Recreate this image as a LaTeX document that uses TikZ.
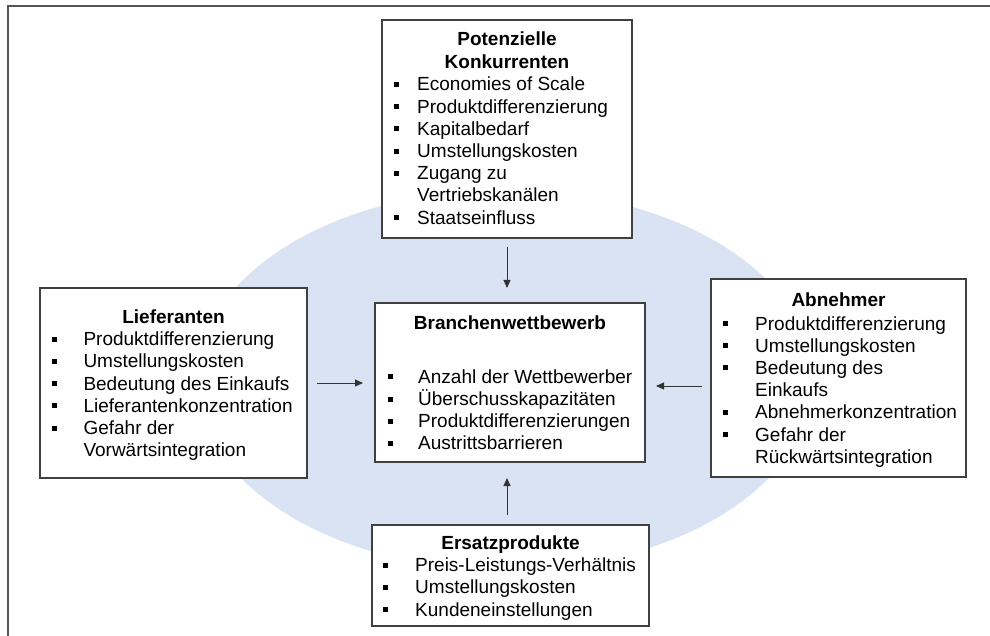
\documentclass[tikz,border=0pt]{standalone}
\usepackage{fontspec}
\setmainfont{Liberation Sans}
\usetikzlibrary{arrows.meta}
\definecolor{ellcol}{HTML}{DAE3F3}
\definecolor{boxline}{HTML}{404040}
\definecolor{arrcol}{HTML}{333333}
\definecolor{framecol}{HTML}{555555}
\newcommand\mybline[5]{%
  \node[bul] (#1b) at (#2,#4-6.5) {};
  \node[itm] (#1) at (#3,#4) {#5};}
\newcommand\mycont[4]{%
  \node[itm] (#1) at (#2,#3) {#4};}
\begin{document}
\begin{tikzpicture}[x=1pt,y=-1pt,
  box/.style={draw=boxline,line width=1.2pt,fill=white,inner sep=0pt,outer sep=0pt},
  ttl/.style={anchor=base,font=\fontsize{19}{22}\selectfont\bfseries,inner sep=0pt},
  itm/.style={anchor=base west,font=\fontsize{19}{22}\selectfont,inner sep=0pt},
  bul/.style={fill=black,minimum size=5pt,inner sep=0pt,outer sep=0pt},
  arr/.style={draw=arrcol,line width=1pt,-{Triangle[length=8pt,width=7pt]}}]
\useasboundingbox (0,0) rectangle (990,636);
\fill[white] (0,0) rectangle (990,636);
\draw[framecol,line width=1.5pt] (8,636) -- (8,6) -- (990,6);
\fill[ellcol] (505,380) ellipse [x radius=308pt, y radius=190pt];

% boxes
\node[box,minimum width=250pt,minimum height=218pt] (top) at (507,129) {};
\node[box,minimum width=270pt,minimum height=159pt] (mid) at (510,382.5) {};
\node[box,minimum width=267pt,minimum height=190pt] (left) at (173.5,383) {};
\node[box,minimum width=255pt,minimum height=198pt] (right) at (838.5,378) {};
\node[box,minimum width=277pt,minimum height=101pt] (bot) at (510.5,575.5) {};

% top box text
\node[ttl] (topt1) at (507,45.7) {Potenzielle};
\node[ttl] (topt2) at (507,68.3) {Konkurrenten};
\mybline{top1}{396}{417}{91}{Economies of Scale}
\mybline{top2}{396}{417}{113.2}{Produktdifferenzierung}
\mybline{top3}{396}{417}{135.4}{Kapitalbedarf}
\mybline{top4}{396}{417}{157.6}{Umstellungskosten}
\mybline{top5}{396}{417}{179.8}{Zugang zu}
\mycont{top6}{417}{202}{Vertriebskanälen}
\mybline{top7}{396}{417}{224.2}{Staatseinfluss}

% middle box text
\node[ttl] (midt) at (510,329.3) {Branchenwettbewerb};
\mybline{mid1}{390.7}{418}{383.3}{Anzahl der Wettbewerber}
\mybline{mid2}{390.7}{418}{405.5}{Überschusskapazitäten}
\mybline{mid3}{390.7}{418}{427.7}{Produktdifferenzierungen}
\mybline{mid4}{390.7}{418}{449.9}{Austrittsbarrieren}

% left box text
\node[ttl] (leftt) at (173.5,323.3) {Lieferanten};
\mybline{left1}{54.5}{83.3}{345.7}{Produktdifferenzierung}
\mybline{left2}{54.5}{83.3}{367.9}{Umstellungskosten}
\mybline{left3}{54.5}{83.3}{390.1}{Bedeutung des Einkaufs}
\mybline{left4}{54.5}{83.3}{412.3}{Lieferantenkonzentration}
\mybline{left5}{54.5}{83.3}{434.5}{Gefahr der}
\mycont{left6}{83.3}{456.7}{Vorwärtsintegration}

% right box text
\node[ttl] (rightt) at (838.5,306.7) {Abnehmer};
\mybline{right1}{725.7}{755}{330}{Produktdifferenzierung}
\mybline{right2}{725.7}{755}{352.2}{Umstellungskosten}
\mybline{right3}{725.7}{755}{374.4}{Bedeutung des}
\mycont{right4}{755}{396.6}{Einkaufs}
\mybline{right5}{725.7}{755}{418.8}{Abnehmerkonzentration}
\mybline{right6}{725.7}{755}{441}{Gefahr der}
\mycont{right7}{755}{463.2}{Rückwärtsintegration}

% bottom box text
\node[ttl] (bott) at (510.5,549.3) {Ersatzprodukte};
\mybline{bot1}{385.7}{415}{571.7}{Preis-Leistungs-Verhältnis}
\mybline{bot2}{385.7}{415}{593.9}{Umstellungskosten}
\mybline{bot3}{385.7}{415}{616.1}{Kundeneinstellungen}

% arrows
\draw[arr,shorten <=9pt,shorten >=15pt] (top.south) -- (top.south |- mid.north);
\draw[arr,shorten <=10pt,shorten >=12pt] (left.east) -- (left.east -| mid.west);
\draw[arr,shorten <=9pt,shorten >=11pt] ([yshift=-8pt]right.west) -- ([yshift=-8pt]right.west -| mid.east);
\draw[arr,shorten <=10pt,shorten >=16pt] ([xshift=-3.5pt]bot.north) -- ([xshift=-3.5pt]bot.north |- mid.south);
\end{tikzpicture}
\end{document}
